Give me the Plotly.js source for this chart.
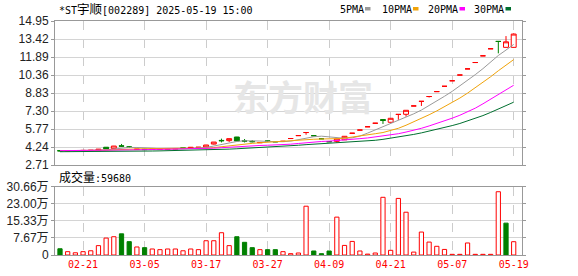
<!DOCTYPE html>
<html>
<head>
<meta charset="utf-8">
<script src="https://cdn.plot.ly/plotly-3.0.1.min.js"></script>
<style>html,body{margin:0;padding:0;background:#fff;}#chart{width:578px;height:276px;}</style>
</head>
<body>
<div id="chart"></div>
<script>
// ---- data ----
const dates = ["2025-02-18","2025-02-19","2025-02-20","2025-02-21","2025-02-24","2025-02-25","2025-02-26","2025-02-27","2025-02-28","2025-03-03",
"2025-03-04","2025-03-05","2025-03-06","2025-03-07","2025-03-10","2025-03-11","2025-03-12","2025-03-13","2025-03-14","2025-03-17",
"2025-03-18","2025-03-19","2025-03-20","2025-03-21","2025-03-24","2025-03-25","2025-03-26","2025-03-27","2025-03-28","2025-03-31",
"2025-04-01","2025-04-02","2025-04-03","2025-04-07","2025-04-08","2025-04-09","2025-04-10","2025-04-11","2025-04-14","2025-04-15",
"2025-04-16","2025-04-17","2025-04-18","2025-04-21","2025-04-22","2025-04-23","2025-04-24","2025-04-25","2025-04-29","2025-04-30",
"2025-05-06","2025-05-07","2025-05-08","2025-05-09","2025-05-12","2025-05-13","2025-05-14","2025-05-15","2025-05-16","2025-05-19"];

const openP  = [3.93,3.91,3.93,3.93,3.95,3.93,4.22,4.10,4.34,4.25, 4.03,4.05,4.04,4.05,4.05,4.06,4.17,4.12,4.20,4.24,
                4.49,4.80,4.78,5.09,4.77,4.72,4.60,4.76,4.70,4.72, 4.96,5.21,5.47,5.20,4.94,4.69,4.72,4.85,5.41,5.68,
                5.96,6.26,6.57,6.34,7.01,7.02,7.73,8.12,8.53,8.95, 9.40,9.87,10.36,10.88,11.42,11.99,12.59,13.22,12.71,12.71];
const highP  = [3.96,3.95,3.95,3.96,3.97,4.07,4.24,4.33,4.50,4.32, 4.07,4.07,4.08,4.08,4.08,4.13,4.18,4.22,4.24,4.42,
                4.66,4.95,4.96,5.10,4.92,4.83,4.63,4.78,4.72,4.72, 4.96,5.21,5.47,5.20,4.94,4.69,4.93,5.16,5.41,5.68,
                5.96,6.26,6.57,6.70,7.01,7.37,7.73,8.12,8.53,8.95, 9.40,9.87,10.36,10.88,11.42,11.99,12.59,13.22,13.67,13.90];
const lowP   = [3.87,3.89,3.90,3.91,3.92,3.92,4.06,4.09,4.24,4.15, 4.01,4.00,4.02,4.03,4.03,4.05,4.08,4.10,4.18,4.22,
                4.45,4.63,4.66,4.74,4.63,4.63,4.58,4.70,4.66,4.72, 4.96,5.21,5.28,5.20,4.94,4.69,4.60,4.88,5.41,5.68,
                5.96,6.26,6.20,6.32,6.55,6.82,7.73,7.73,8.45,8.95, 9.40,9.87,10.36,10.88,11.42,11.99,12.59,12.20,12.70,12.70];
const closeP = [3.91,3.93,3.94,3.95,3.96,4.06,4.08,4.32,4.31,4.23, 4.06,4.02,4.07,4.06,4.07,4.10,4.11,4.21,4.22,4.41,
                4.66,4.77,4.95,4.75,4.74,4.69,4.62,4.73,4.68,4.72, 4.96,5.21,5.47,5.20,4.94,4.69,4.92,5.15,5.41,5.68,
                5.96,6.26,6.50,6.68,7.01,7.36,7.73,8.12,8.53,8.95, 9.40,9.87,10.36,10.88,11.42,11.99,12.59,13.21,13.18,13.84];

const ma5  = [3.92,3.92,3.93,3.93,3.94,3.97,4.00,4.07,4.15,4.20, 4.20,4.19,4.14,4.09,4.06,4.06,4.08,4.11,4.14,4.21,
              4.32,4.45,4.60,4.71,4.77,4.78,4.75,4.71,4.69,4.69, 4.74,4.86,5.02,5.11,5.16,5.10,5.04,4.98,5.02,5.17,
              5.42,5.69,5.96,6.22,6.48,6.76,7.06,7.38,7.75,8.14, 8.55,8.97,9.42,9.89,10.39,10.90,11.45,12.02,12.48,12.96];
const ma10 = [3.92,3.92,3.92,3.93,3.93,3.95,3.97,4.00,4.04,4.07, 4.08,4.09,4.11,4.12,4.13,4.13,4.14,4.12,4.12,4.13,
              4.19,4.27,4.36,4.43,4.49,4.55,4.60,4.65,4.70,4.73, 4.76,4.81,4.86,4.90,4.92,4.92,4.95,4.99,5.07,5.16,
              5.26,5.37,5.47,5.62,5.83,6.09,6.37,6.67,6.98,7.31, 7.65,8.02,8.40,8.82,9.26,9.73,10.21,10.72,11.19,11.67];
const ma20 = [3.93,3.93,3.93,3.94,3.94,3.95,3.96,3.97,3.98,3.99, 4.00,4.01,4.02,4.03,4.04,4.05,4.06,4.07,4.08,4.10,
              4.14,4.18,4.23,4.27,4.31,4.34,4.37,4.39,4.41,4.43, 4.48,4.54,4.61,4.66,4.71,4.74,4.78,4.82,4.88,4.95,
              5.01,5.09,5.16,5.26,5.37,5.51,5.66,5.83,6.03,6.24, 6.46,6.69,6.94,7.22,7.54,7.91,8.29,8.70,9.08,9.49];
const ma30 = [3.84,3.84,3.84,3.84,3.84,3.85,3.86,3.87,3.88,3.89, 3.89,3.90,3.90,3.91,3.92,3.93,3.94,3.95,3.96,3.98,
              4.00,4.03,4.06,4.09,4.12,4.15,4.19,4.22,4.26,4.31, 4.35,4.39,4.44,4.48,4.51,4.54,4.56,4.59,4.63,4.68,
              4.74,4.81,4.89,4.98,5.08,5.19,5.31,5.44,5.58,5.73, 5.89,6.06,6.24,6.45,6.67,6.91,7.18,7.46,7.75,8.05];

// volume in 手 ; volUp: 1 = red (hollow), 0 = green (filled)
const volume = [28000,15000,10000,15000,19000,42000,76000,82000,95000,60000, 36000,33000,27000,24000,27000,27000,19000,27000,24000,64000,
                64000,100000,42000,82000,57000,33000,24000,24000,24000,15000, 6000,9000,219000,18000,6000,18000,170000,43000,61000,18000,
                4000,9000,259000,21000,254000,192000,13000,103000,58000,39000, 25000,3000,3000,54000,3000,3000,3000,284000,143000,59680];
const volUp  = [0,1,1,1,1,1,1,1,0,0, 1,0,1,1,1,1,1,1,1,1, 1,1,1,0,0,0,1,0,0,1, 1,1,1,0,0,0,1,1,1,1, 1,1,1,1,1,1,1,1,1,1, 1,1,1,1,1,1,1,1,0,1];

const priceTicks = [2.71,4.24,5.77,7.30,8.83,10.36,11.89,13.42,14.95];
const volTicks = [0,76700,153300,230000,306600];
const volTickText = ["0","7.67万","15.33万","23.00万","30.66万"];
const xTickDates = ["2025-02-21","2025-03-05","2025-03-17","2025-03-27","2025-04-09","2025-04-21","2025-05-07","2025-05-19"];
const xTickText = ["02-21","03-05","03-17","03-27","04-09","04-21","05-07","05-19"];
const titleText = "*ST宇顺[002289] 2025-05-19 15:00";
const volTitle = "成交量:59680";
const maNames = ["5PMA","10PMA","20PMA","30PMA"];
const maColors = ["#9a9a9a","#f0a30a","#ff00ff","#006f2f"];

// ---- geometry helpers (plot area: x 55..522, y 21..255) ----
const L = 55, R = 522, T = 21, B = 255;
const px = x => (x - L) / (R - L);
const py = y => (B - y) / (B - T);

const RED = "#ff0000", GREEN = "#008000";
const mono = "DejaVu Sans Mono, Noto Sans CJK SC, monospace";

const traces = [
  {type:"candlestick", x:dates, open:openP, high:highP, low:lowP, close:closeP,
   xaxis:"x", yaxis:"y", whiskerwidth:0, hoverinfo:"skip",
   increasing:{line:{color:RED,width:1}, fillcolor:"#ffffff"},
   decreasing:{line:{color:GREEN,width:1}, fillcolor:GREEN}},
];
[ma5,ma10,ma20,ma30].forEach((m,k)=>{
  traces.push({type:"scatter", mode:"lines", x:dates, y:m, xaxis:"x", yaxis:"y",
    line:{color:maColors[k], width:1}, hoverinfo:"skip"});
});
traces.push({type:"bar", x:dates, y:volume, xaxis:"x", yaxis:"y2", width:0.55,
  marker:{color:volUp.map(u=>u?"#ffffff":GREEN), line:{color:volUp.map(u=>u?RED:GREEN), width:1}},
  hoverinfo:"skip"});

const annotations = [
  {xref:"paper", yref:"paper", x:px(57), y:py(10), xanchor:"left", yanchor:"middle", showarrow:false,
   text:titleText.replace("宇顺","<span style='font-size:12.5px'>宇顺</span>"), font:{family:mono, size:10, color:"#000"}},
  {xref:"paper", yref:"paper", x:px(57), y:py(177), xanchor:"left", yanchor:"middle", showarrow:false,
   text:volTitle.replace("成交量","<span style='font-size:12px'>成交量</span>"), font:{family:mono, size:10, color:"#000"}},
  {xref:"paper", yref:"paper", x:px(303), y:py(95), xanchor:"center", yanchor:"middle", showarrow:false,
   text:"<b>东方财富</b>", font:{family:"Noto Sans CJK SC", size:35, color:"#e6e6e6"}},
];
const legX = [338, 380, 426, 472];
const sqX = [365, 413, 459.5, 505.5];
const shapes = [];
maNames.forEach((n,k)=>{
  annotations.push({xref:"paper", yref:"paper", x:px(legX[k]), y:py(9.5), xanchor:"left", yanchor:"middle",
    showarrow:false, text:n, font:{family:mono, size:10, color:"#000"}});
  shapes.push({type:"rect", xref:"paper", yref:"paper", x0:px(sqX[k]), x1:px(sqX[k]+5.5), y0:py(10.5), y1:py(7),
    fillcolor:maColors[k], line:{width:0}});
});

const axisLine = "#999999";
const layout = {
  width:578, height:276, margin:{l:L, r:578-R, t:T, b:276-B},
  paper_bgcolor:"#ffffff", plot_bgcolor:"#ffffff", showlegend:false, hovermode:false,
  boxgap:0.2, boxgroupgap:0.2,
  xaxis:{type:"category", range:[-0.65, 60.08], anchor:"y2", tickmode:"array", tickvals:xTickDates, ticktext:xTickText,
    showgrid:true, gridcolor:"#cccccc", griddash:"dash", gridwidth:1, ticks:"", showline:true, linecolor:axisLine, linewidth:1,
    mirror:"all", zeroline:false, rangeslider:{visible:false}, fixedrange:true,
    tickfont:{family:mono, size:10, color:RED}},
  yaxis:{domain:[(B-165)/(B-T), 1], range:[2.71,14.95], tickmode:"array", tickvals:priceTicks,
    ticktext:priceTicks.map(v=>v.toFixed(2)), showgrid:true, gridcolor:"#d4d4d4", gridwidth:1, zeroline:false,
    showline:true, linecolor:axisLine, mirror:"all", ticks:"outside", ticklen:3, tickcolor:axisLine,
    tickfont:{family:"Liberation Sans, Arial, sans-serif", size:12, color:"#222"}, fixedrange:true},
  yaxis2:{domain:[0, (B-186.7)/(B-T)], range:[0,306600], tickmode:"array", tickvals:volTicks, ticktext:volTickText,
    showgrid:true, gridcolor:"#d4d4d4", gridwidth:1, zeroline:false, showline:true, linecolor:axisLine, mirror:"all",
    ticks:"outside", ticklen:3, tickcolor:axisLine,
    tickfont:{family:"Liberation Sans, Arial, Noto Sans CJK SC, sans-serif", size:12, color:"#222"}, fixedrange:true},
  annotations:annotations, shapes:shapes
};
Plotly.newPlot("chart", traces, layout, {staticPlot:true, displayModeBar:false});
</script>
</body>
</html>
